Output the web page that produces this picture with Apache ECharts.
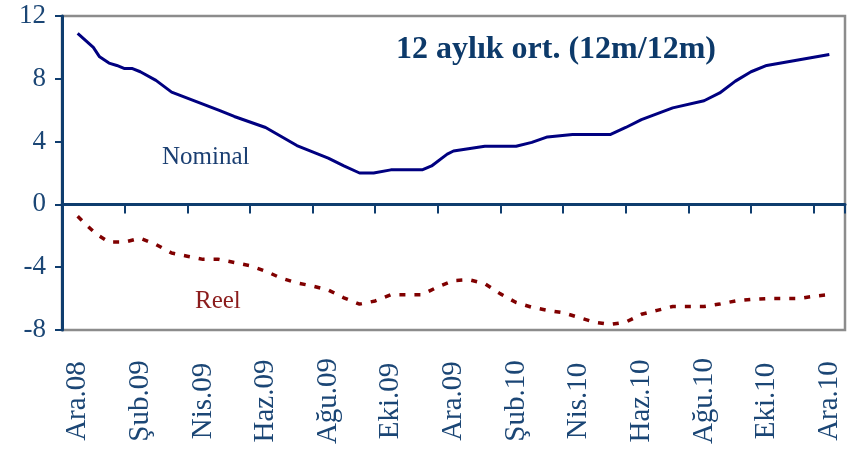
<!DOCTYPE html>
<html>
<head>
<meta charset="utf-8">
<title>12 aylık ort. (12m/12m)</title>
<script src="https://cdn.jsdelivr.net/npm/echarts@6/dist/echarts.min.js"></script>
<style>
    html, body {margin:0; padding:0; background:#fff;}
    #chart {width:855px; height:451px;}
</style>
</head>
<body>
<div id="chart"></div>
<script>
// aylar (kategori ekseni, etiket her 2 ayda bir)
var months = ["Ara.08","Oca.09","Şub.09","Mar.09","Nis.09","May.09","Haz.09","Tem.09","Ağu.09","Eyl.09","Eki.09","Kas.09",
    "Ara.09","Oca.10","Şub.10","Mar.10","Nis.10","May.10","Haz.10","Tem.10","Ağu.10","Eyl.10","Eki.10","Kas.10","Ara.10"];

// nominal seri: ay sirasi (0 = Ara.08) ve deger
var nominalAy = [0,0.5,0.7,1,1.25,1.5,1.75,2,2.5,3,4.5,5,6,7,8,8.5,9,9.45,10,11,
    11.3,11.8,12,13,14,14.5,15,15.8,17,17.5,18,19,20,20.5,21,21.5,22,23,24];
var nominalDeger = [10.9,10.0,9.4,9.0,8.85,8.65,8.65,8.45,7.9,7.15,6.0,5.6,4.9,3.75,2.95,2.45,2.0,2.0,2.2,2.2,
    2.45,3.2,3.4,3.7,3.7,3.95,4.3,4.45,4.45,4.9,5.4,6.15,6.6,7.1,7.85,8.45,8.85,9.2,9.55];

// reel seri
var reelAy = [0,0.3,0.6,1,1.5,2,2.5,3,3.5,4,4.5,5,5.5,6,6.5,7,7.5,8,8.5,9,
    9.5,10,11,11.5,12,12.5,13,13.5,14,14.5,15,15.5,16,16.5,17,17.5,18,18.5,19,20,
    20.5,21,21.5,22,23,23.5,24];
var reelDeger = [-0.75,-1.35,-1.9,-2.4,-2.4,-2.15,-2.55,-3.1,-3.3,-3.5,-3.5,-3.7,-3.9,-4.25,-4.7,-5.0,-5.2,-5.45,-5.95,-6.35,
    -6.15,-5.75,-5.75,-5.25,-4.85,-4.8,-5.05,-5.7,-6.25,-6.55,-6.75,-6.9,-7.2,-7.5,-7.65,-7.5,-7.0,-6.75,-6.5,-6.5,
    -6.35,-6.15,-6.05,-6.0,-6.0,-5.85,-5.75];

function zip(xs, ys) {
    var out = [];
    for (var i = 0; i < xs.length; i++) {
        out.push([xs[i], ys[i]]);
    }
    return out;
}

var serif = "'Liberation Serif','Times New Roman',serif";
var blue = "#0f3d6e";
var labelBlue = "#1b4675";

var chart = echarts.init(document.getElementById("chart"));
var option = {
    animation: false,
    backgroundColor: "#fff",
    title: [
        {text: "12 aylık ort. (12m/12m)", left: 396, top: 34, padding: 0,
            textStyle: {fontFamily: serif, fontSize: 32, fontWeight: "bold", color: "#0d3a6a"}},
        {text: "Nominal", left: 162, top: 145, padding: 0,
            textStyle: {fontFamily: serif, fontSize: 25, fontWeight: "normal", color: "#1b3f72"}},
        {text: "Reel", left: 195, top: 289, padding: 0,
            textStyle: {fontFamily: serif, fontSize: 25, fontWeight: "normal", color: "#8b1c1c"}}
    ],
    grid: {left: 62, right: 10, top: 16, height: 314, show: true, borderColor: "#8c8c8c", borderWidth: 2.5},
    xAxis: [
        // seriler icin gizli deger ekseni (ay cinsinden)
        {type: "value", min: -0.5, max: 24.5, show: false},
        // sifir cizgisi ve tikler (etiket bos)
        {type: "category", data: months, boundaryGap: true, position: "bottom",
            axisLine: {onZero: true, onZeroAxisIndex: 0, lineStyle: {color: blue, width: 3}},
            axisTick: {show: true, interval: 1, length: 9, lineStyle: {color: blue, width: 2}},
            axisLabel: {show: true, interval: 1, formatter: function () { return ""; }},
            splitLine: {show: false}},
        // alttaki dik etiketler
        {type: "category", data: months, boundaryGap: true, position: "bottom",
            axisLine: {show: false, onZero: false}, axisTick: {show: false}, splitLine: {show: false},
            axisLabel: {interval: 1, rotate: 90, align: "center", verticalAlign: "middle", margin: 71,
                fontFamily: serif, fontSize: 29, color: labelBlue}}
    ],
    yAxis: {
        type: "value", min: -8, max: 12, interval: 4,
        axisLine: {show: true, onZero: false, lineStyle: {color: blue, width: 3}},
        axisTick: {show: true, length: 7, lineStyle: {color: blue, width: 2}},
        axisLabel: {margin: 16, fontFamily: serif, fontSize: 27, color: labelBlue},
        splitLine: {show: false}
    },
    series: [
        {name: "Nominal", type: "line", xAxisIndex: 0, yAxisIndex: 0, symbol: "none",
            data: zip(nominalAy, nominalDeger),
            lineStyle: {color: "#000080", width: 3}},
        {name: "Reel", type: "line", xAxisIndex: 0, yAxisIndex: 0, symbol: "none",
            data: zip(reelAy, reelDeger),
            lineStyle: {color: "#800000", width: 3.5, type: [6, 9]}}
    ]
};
chart.setOption(option);
</script>
</body>
</html>
